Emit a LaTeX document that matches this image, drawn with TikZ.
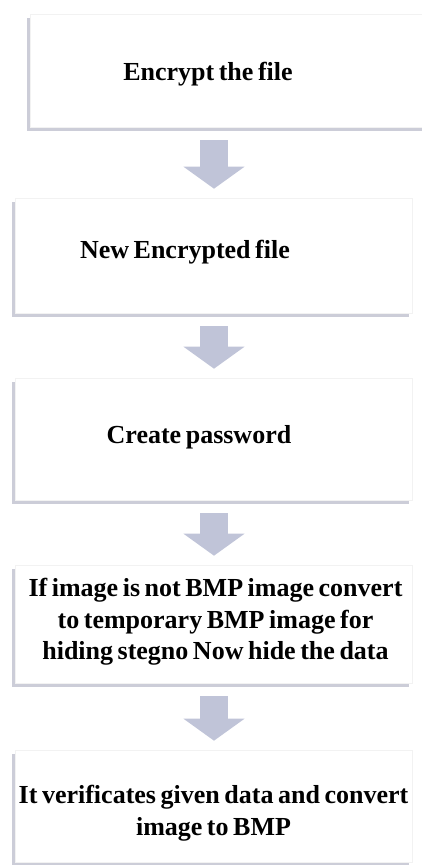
\documentclass[tikz,border=0pt]{standalone}
\usepackage{fontspec}
\setmainfont{Liberation Serif}[WordSpace=0.7]
\usetikzlibrary{arrows.meta,shadows}
\definecolor{grisfleche}{RGB}{192,196,216}
\definecolor{ombre}{RGB}{204,205,216}
\begin{document}
\begin{tikzpicture}[x=1pt,y=-1pt]
			\tikzstyle{boite}=[draw=gray!10,fill=white,line width=0.6pt,inner sep=0pt,drop shadow={shadow xshift=-3pt,shadow yshift=-3.5pt,fill=ombre,opacity=1}]
			\tikzstyle{texte}=[font=\bfseries\fontsize{26}{31.7}\selectfont,align=center,inner sep=0pt]
			\tikzstyle{fleche}=[-{Triangle[length=22pt,width=60pt]},line width=28pt,grisfleche,shorten <=13pt,shorten >=9pt]
			\def\Largeur{397}
			\useasboundingbox (0,0) rectangle (421,865);
			% les boites
			\node[boite,minimum width=400pt,minimum height=113pt] (B1) at (230,70.5) {};
			\node[boite,minimum width=\Largeur pt,minimum height=115pt] (B2) at (213.5,255.5) {};
			\node[boite,minimum width=\Largeur pt,minimum height=122pt] (B3) at (213.5,439) {};
			\node[boite,minimum width=\Largeur pt,minimum height=118pt] (B4) at (213.5,624) {};
			\node[boite,minimum width=\Largeur pt,minimum height=112pt] (B5) at (213.5,806) {};
			% les textes
			\node[texte,anchor=base] (T1) at (208,80) {Encrypt the file};
			\node[texte,anchor=base] (T2) at (185,258) {New Encrypted file};
			\node[texte,anchor=base] (T3) at (199,443) {Create password};
			\node[texte] (T4) at (215.5,622) {If image is not BMP image convert\\to temporary BMP image for\\hiding stegno Now hide the data};
			\node[texte] (T5) at (213.5,813) {It verificates given data and convert\\image to BMP};
			% les fleches
			\coordinate (axe) at (214,0);
			\draw[fleche] (B1.south -| axe) -- (B2.north -| axe);
			\draw[fleche] (B2.south -| axe) -- (B3.north -| axe);
			\draw[fleche] (B3.south -| axe) -- (B4.north -| axe);
			\draw[fleche] (B4.south -| axe) -- (B5.north -| axe);
\end{tikzpicture}
\end{document}
